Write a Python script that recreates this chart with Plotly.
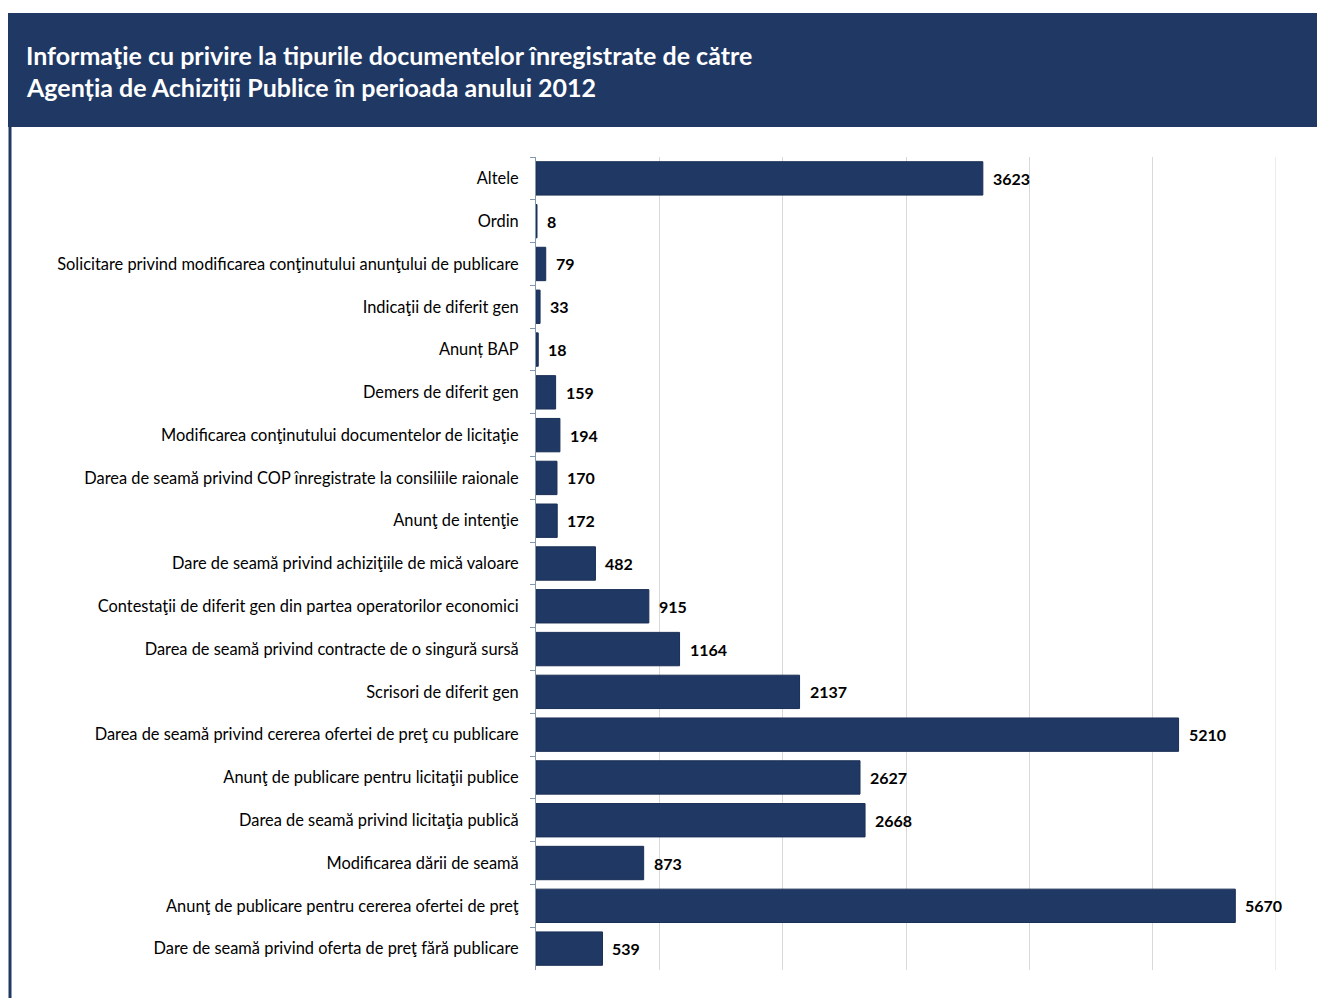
import plotly.graph_objects as go

categories = [
    "Altele",
    "Ordin",
    "Solicitare privind modificarea conţinutului anunţului de publicare",
    "Indicaţii de diferit gen",
    "Anunț BAP",
    "Demers de diferit gen",
    "Modificarea conţinutului documentelor de licitaţie",
    "Darea de seamă privind COP înregistrate la consiliile raionale",
    "Anunţ de intenţie",
    "Dare de seamă privind achiziţiile de mică valoare",
    "Contestaţii de diferit gen din partea operatorilor economici",
    "Darea de seamă privind contracte de o singură sursă",
    "Scrisori de diferit gen",
    "Darea de seamă privind cererea ofertei de preţ cu publicare",
    "Anunţ de publicare pentru licitaţii publice",
    "Darea de seamă privind licitaţia publică",
    "Modificarea dării de seamă",
    "Anunţ de publicare pentru cererea ofertei de preţ",
    "Dare de seamă privind oferta de preţ fără publicare",
]
values = [3623, 8, 79, 33, 18, 159, 194, 170, 172, 482, 915, 1164, 2137, 5210, 2627, 2668, 873, 5670, 539]

title_lines = [
    "Informaţie cu privire la tipurile documentelor înregistrate de către",
    "Agenția de Achiziții Publice în perioada anului 2012",
]

x_max = 6000

NAVY = "#203864"
FONT = "Lato, Liberation Sans, sans-serif"
# page has an 8px body margin, so the figure is laid out 8px smaller
OFF = 8
W, H = 1325 - OFF, 998 - OFF
L, R, T, B = 536 - OFF, 49, 157 - OFF, 28
pw, ph = W - L - R, H - T - B


def px(X):
    return (X - OFF - L) / pw


def py(Y):
    return (H - B - (Y - OFF)) / ph


fig = go.Figure()
fig.add_trace(go.Bar(
    x=values, y=categories, orientation="h",
    marker=dict(color=NAVY, line=dict(color="#1a2f55", width=1)),
    width=0.78,
    hoverinfo="x+y",
))

annotations = []
for c, v in zip(categories, values):
    annotations.append(dict(
        x=v, y=c, xref="x", yref="y", text=str(v), showarrow=False,
        xanchor="left", yanchor="middle", xshift=8,
        font=dict(family=FONT, size=16, color="#000000", weight="bold"),
    ))

annotations.append(dict(
    x=px(24), y=py(55), xref="paper", yref="paper",
    text=title_lines[0], showarrow=False, xanchor="left", yanchor="middle",
    font=dict(family=FONT, size=25, color="#ffffff", weight="bold"),
))
annotations.append(dict(
    x=px(24), y=py(87), xref="paper", yref="paper",
    text=title_lines[1], showarrow=False, xanchor="left", yanchor="middle",
    font=dict(family=FONT, size=25, color="#ffffff", weight="bold"),
))

shapes = [
    dict(type="rect", xref="paper", yref="paper",
         x0=px(8), x1=px(1340), y0=py(127), y1=py(13),
         fillcolor=NAVY, line=dict(width=0), layer="below"),
    dict(type="line", xref="paper", yref="paper",
         x0=px(10), x1=px(10), y0=py(998), y1=py(13),
         line=dict(color=NAVY, width=3)),
    # closing gridline at the end of the value range
    dict(type="line", xref="x", yref="paper",
         x0=x_max, x1=x_max, y0=0, y1=1,
         line=dict(color="#d9d9d9", width=1), layer="below"),
]

fig.update_layout(
    width=W, height=H,
    margin=dict(l=L, r=R, t=T, b=B, pad=0),
    paper_bgcolor="#ffffff", plot_bgcolor="#ffffff",
    showlegend=False,
    annotations=annotations,
    shapes=shapes,
    bargap=0.22,
    font=dict(family=FONT, size=16, color="#000000"),
    xaxis=dict(
        range=[0, x_max], dtick=1000, showticklabels=False,
        showgrid=True, gridcolor="#d9d9d9", gridwidth=1,
        zeroline=False, showline=False, ticks="", fixedrange=True,
    ),
    yaxis=dict(
        autorange="reversed", type="category",
        showline=True, linecolor="#8497b0", linewidth=1,
        ticks="outside", ticklen=5, tickcolor="#8497b0", tickson="boundaries",
        showgrid=False, ticklabelstandoff=13,
        tickfont=dict(family=FONT, size=16.4, color="#000000"),
    ),
)

fig.write_html("out.html")
